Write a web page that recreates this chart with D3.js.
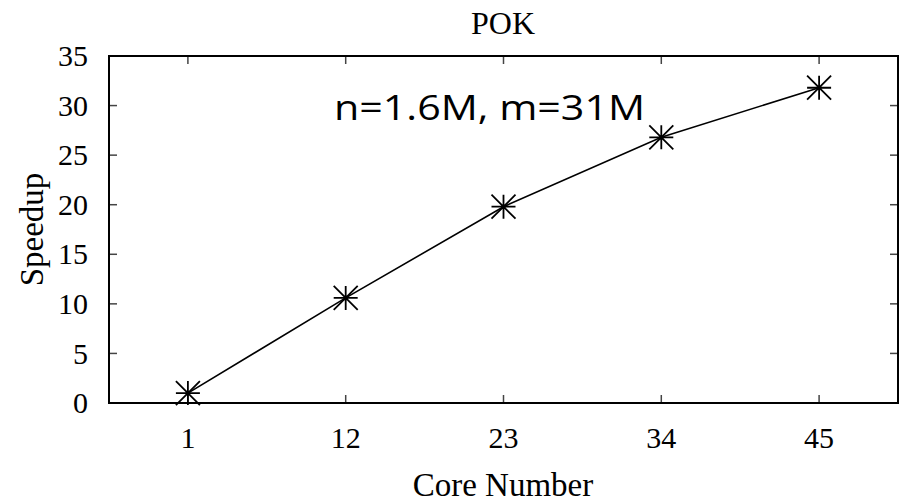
<!DOCTYPE html>
<html>
<head>
<meta charset="utf-8">
<script src="https://cdn.jsdelivr.net/npm/d3@7"></script>
<style>
  body { margin: 0; background: #fff; }
  text { fill: #000; }
</style>
</head>
<body>
<div id="chart"></div>
<script>
// chart data
var coreLabels = ["1", "12", "23", "34", "45"]
var speedup = [1.0, 10.6, 19.8, 26.8, 31.8]
var yTicks = [0, 5, 10, 15, 20, 25, 30, 35]

var margin = { top: 56, right: 6, bottom: 101, left: 109 }
var width = 904 - margin.left - margin.right
var height = 504 - margin.top - margin.bottom

var svg = d3
  .select("#chart")
  .append("svg")
  .attr("width", 904)
  .attr("height", 504)

var g = svg
  .append("g")
  .attr("transform", "translate(" + margin.left + "," + margin.top + ")")

// index based x scale, half a step of padding on both sides
var x = d3.scaleLinear().domain([-0.5, coreLabels.length - 0.5]).range([0, width])
var y = d3.scaleLinear().domain([0, 35]).range([height, 0])

var serif = "'Liberation Serif', 'Times New Roman', serif"

// ticks (inside, mirrored)
var tickLen = 8
var idx = d3.range(coreLabels.length)

g.selectAll(".xtick-b")
  .data(idx)
  .enter()
  .append("line")
  .attr("x1", (d) => x(d))
  .attr("x2", (d) => x(d))
  .attr("y1", height)
  .attr("y2", height - tickLen)
  .attr("stroke", "#444")
  .attr("stroke-width", 1.5)

g.selectAll(".xtick-t")
  .data(idx)
  .enter()
  .append("line")
  .attr("x1", (d) => x(d))
  .attr("x2", (d) => x(d))
  .attr("y1", 0)
  .attr("y2", tickLen)
  .attr("stroke", "#444")
  .attr("stroke-width", 1.5)

g.selectAll(".ytick-l")
  .data(yTicks)
  .enter()
  .append("line")
  .attr("x1", 0)
  .attr("x2", tickLen)
  .attr("y1", (d) => y(d))
  .attr("y2", (d) => y(d))
  .attr("stroke", "#444")
  .attr("stroke-width", 1.5)

g.selectAll(".ytick-r")
  .data(yTicks)
  .enter()
  .append("line")
  .attr("x1", width)
  .attr("x2", width - tickLen)
  .attr("y1", (d) => y(d))
  .attr("y2", (d) => y(d))
  .attr("stroke", "#444")
  .attr("stroke-width", 1.5)

// tick labels
g.selectAll(".xlabel")
  .data(idx)
  .enter()
  .append("text")
  .attr("x", (d) => x(d))
  .attr("y", height + 45)
  .attr("text-anchor", "middle")
  .style("font-family", serif)
  .style("font-size", "30px")
  .text((d) => coreLabels[d])

g.selectAll(".ylabel")
  .data(yTicks)
  .enter()
  .append("text")
  .attr("x", -21)
  .attr("y", (d) => y(d))
  .attr("dy", "0.34em")
  .attr("text-anchor", "end")
  .style("font-family", serif)
  .style("font-size", "30px")
  .text((d) => d)

// frame
g.append("rect")
  .attr("x", 0)
  .attr("y", 0)
  .attr("width", width)
  .attr("height", height)
  .attr("fill", "none")
  .attr("stroke", "#000")
  .attr("stroke-width", 2)

// series line
var line = d3
  .line()
  .x((d, i) => x(i))
  .y((d) => y(d))

g.append("path")
  .datum(speedup)
  .attr("d", line)
  .attr("fill", "none")
  .attr("stroke", "#000")
  .attr("stroke-width", 1.6)

// star markers (plus + cross)
var r = 12
g.selectAll(".marker")
  .data(speedup)
  .enter()
  .append("path")
  .attr("class", "marker")
  .attr("transform", (d, i) => "translate(" + x(i) + "," + y(d) + ")")
  .attr(
    "d",
    "M" + -r + ",0H" + r +
    "M0," + -r + "V" + r +
    "M" + -r + "," + -r + "L" + r + "," + r +
    "M" + -r + "," + r + "L" + r + "," + -r
  )
  .attr("fill", "none")
  .attr("stroke", "#000")
  .attr("stroke-width", 1.8)

// title, axis labels, note
svg.append("text")
  .attr("x", 503)
  .attr("y", 34)
  .attr("text-anchor", "middle")
  .style("font-family", serif)
  .style("font-size", "32px")
  .text("POK")

svg.append("text")
  .attr("x", 503)
  .attr("y", 496)
  .attr("text-anchor", "middle")
  .style("font-family", serif)
  .style("font-size", "33px")
  .text("Core Number")

svg.append("text")
  .attr("transform", "translate(43," + (margin.top + height / 2) + ") rotate(-90)")
  .attr("text-anchor", "middle")
  .style("font-family", serif)
  .style("font-size", "33px")
  .text("Speedup")

svg.append("text")
  .attr("x", 334)
  .attr("y", 120)
  .attr("textLength", 311)
  .attr("lengthAdjust", "spacingAndGlyphs")
  .style("font-family", "'Open Sans', 'Noto Sans', sans-serif")
  .style("font-size", "34px")
  .text("n=1.6M, m=31M")
</script>
</body>
</html>
